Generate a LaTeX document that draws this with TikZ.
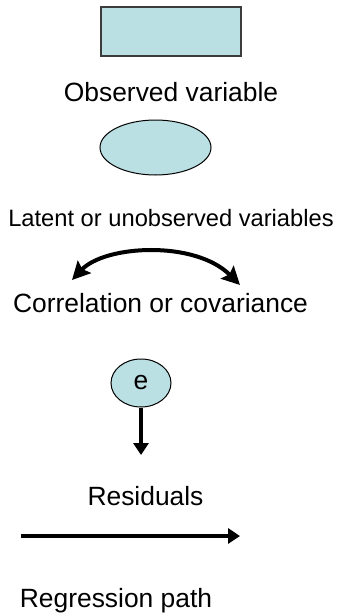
\documentclass[tikz,border=0pt]{standalone}
\usepackage{fontspec}
\setmainfont{Liberation Sans}
\usetikzlibrary{positioning}
\usetikzlibrary{shapes.geometric}
\usetikzlibrary{arrows.meta}
\definecolor{varfill}{RGB}{186,224,228}
\definecolor{varline}{RGB}{60,60,60}

\begin{document}
\begin{tikzpicture}[x=1pt,y=-1pt,
  legendtext/.style={inner sep=0pt, font=\fontsize{26.4}{31}\selectfont},
  smalltext/.style={inner sep=0pt, font=\fontsize{23.7}{28}\selectfont},
  observed/.style={draw=varline, line width=1.5pt, fill=varfill, minimum width=140pt, minimum height=49pt, inner sep=0pt},
  latent/.style={ellipse, draw=black, line width=1pt, fill=varfill, inner sep=0pt},
  path arrow/.style={line width=4pt, -{Triangle[length=12pt,width=15pt]}},
  cor tip/.style={line width=4pt, {Stealth[length=18pt,width=18pt,inset=3pt]}-{Stealth[length=18pt,width=18pt,inset=3pt]}}]

\useasboundingbox (0,0) rectangle (337,613);

%observed variable%
\node[observed] (obs) at (171,31.5) {};
\node[legendtext] (obslabel) at (171,92) {Observed variable};

%latent variable%
\node[latent, minimum width=111pt, minimum height=55pt] (lat) at (155.5,147.5) {};
\node[smalltext] (latlabel) at (171,218.5) {Latent or unobserved variables};

%correlation%
\coordinate (corleft) at (72,280);
\coordinate (corright) at (240,285);
\draw[cor tip] (corleft) .. controls (105,245) and (195,240) .. (corright);
\node[legendtext] (corlabel) at (160.5,303) {Correlation or covariance};

%residual%
\node[latent, minimum width=60pt, minimum height=48pt, font=\fontsize{26.4}{31}\selectfont] (res) at (141,383) {e};
\coordinate (resend) at (141,455);
\draw[path arrow] (res.south) -- (resend);
\node[legendtext] (reslabel) at (145.5,496) {Residuals};

%regression path%
\coordinate (regstart) at (21,536);
\coordinate (regend) at (240,536);
\draw[path arrow] (regstart) -- (regend);
\node[legendtext] (reglabel) at (116,601) {Regression path};

\end{tikzpicture}
\end{document}
